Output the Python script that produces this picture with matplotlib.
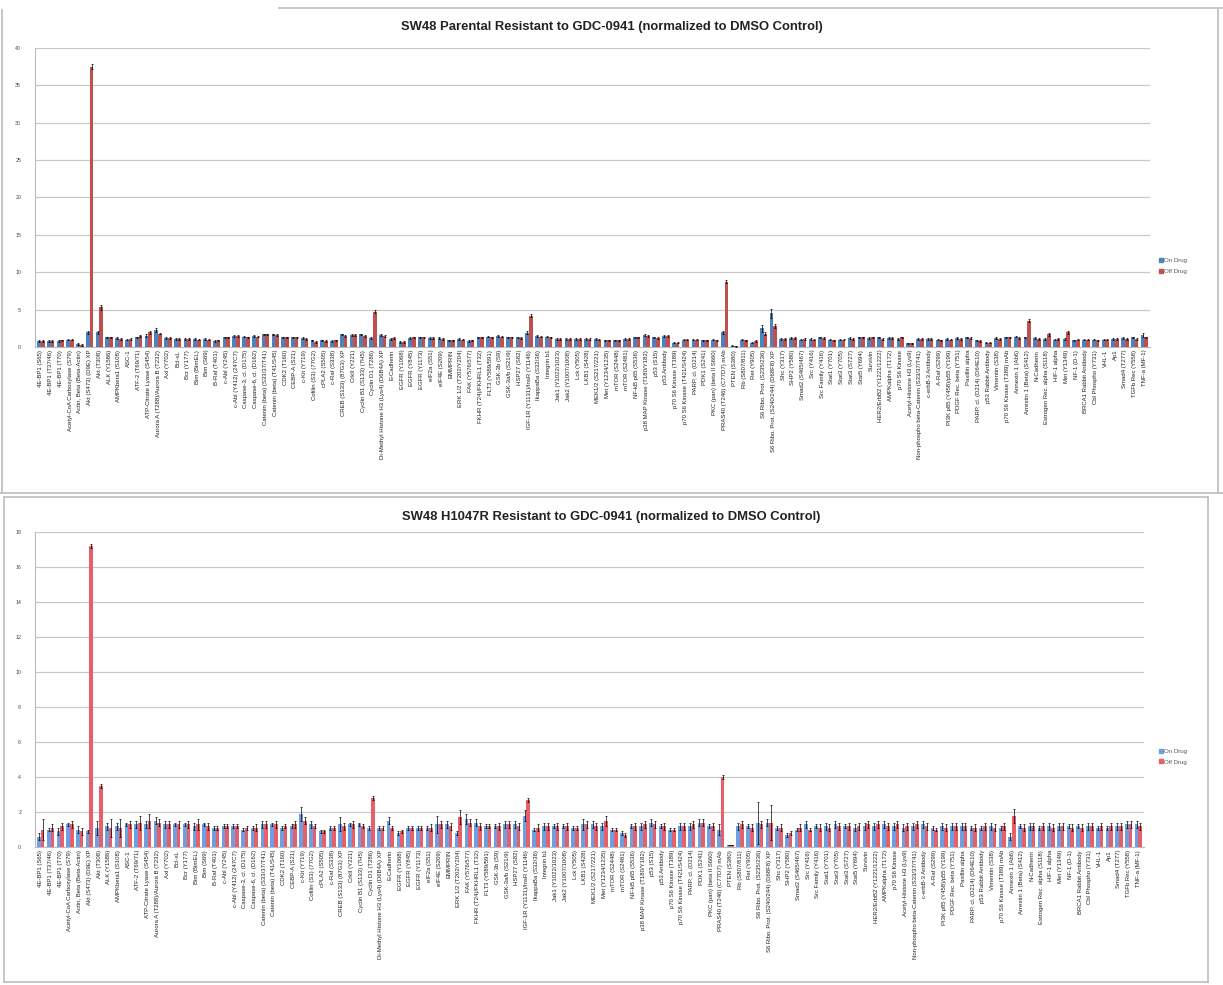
#!/usr/bin/env python3

# Two grouped bar charts (On Drug / Off Drug) for the SW48 antibody array, normalized to DMSO control

import matplotlib
matplotlib.use("Agg")
import matplotlib.pyplot as plt
from matplotlib.lines import Line2D
import numpy as np

labels = [
    "4E-BP1 (S65)", "4E-BP1 (T37/46)", "4E-BP1 (T70)", "Acetyl-CoA Carboxylase (S79)", "Actin, Beta (Beta-Actin)",
    "Akt (S473) (D9E) XP", "Akt (T308)", "ALK (Y1586)", "AMPKbeta1 (S108)", "ASC-1",
    "ATF-2 (T69/71)", "ATP-Citrate Lyase (S454)", "Aurora A (T288)/Aurora B (T232)", "Axl (Y702)", "Bcl-xL",
    "Bcr (Y177)", "Bim (BimEL)", "Bim (S69)", "B-Raf (T401)", "c-Abl (Y245)",
    "c-Abl (Y412) (247C7)", "Caspase-3, cl. (D175)", "Caspase-6, cl. (D162)", "Catenin (beta) (S33/37/T41)", "Catenin (beta) (T41/S45)",
    "CDK2 (T160)", "CEBP-A (S21)", "c-Kit (Y719)", "Cofilin (S3) (77G2)", "cPLA2 (S505)",
    "c-Raf (S338)", "CREB (S133) (87G3) XP", "CrkII (Y221)", "Cyclin B1 (S133) (7H5)", "Cyclin D1 (T286)",
    "Di-Methyl Histone H3 (Lys4) (D6B4A) XP", "E-Cadherin", "EGFR (Y1068)", "EGFR (Y845)", "EGFR (Y1173)",
    "eIF2a (S51)", "eIF4E (S209)", "EMMPRIN", "ERK 1/2 (T202/Y204)", "FAK (Y576/577)",
    "FKHR (T24)/FKHRL1 (T32)", "FLT3 (Y589/591)", "GSK-3b (S9)", "GSK-3a/b (S21/9)", "HSP27 (S82)",
    "IGF-1R (Y1131)/InsR (Y1146)", "IkappaBa (S32/36)", "Integrin b1", "Jak1 (Y1022/1023)", "Jak2 (Y1007/1008)",
    "Lck (Y505)", "LKB1 (S428)", "MEK1/2 (S217/221)", "Met (Y1234/1235)", "mTOR (S2448)",
    "mTOR (S2481)", "NF-kB p65 (S536)", "p38 MAP Kinase (T180/Y182)", "p53 (S15)", "p53 Antibody",
    "p70 S6 Kinase (T389)", "p70 S6 Kinase (T421/S424)", "PARP, cl. (D214)", "PDK1 (S241)", "PKC (pan) (beta II S660)",
    "PRAS40 (T246) (C77D7) mAb", "PTEN (S380)", "Rb (S807/811)", "Ret (Y905)", "S6 Ribo. Prot. (S235/236)",
    "S6 Ribo. Prot. (S240/244) (D68F8) XP", "Shc (Y317)", "SHP2 (Y580)", "Smad2 (S465/467)", "Src (Y416)",
    "Src Family (Y416)", "Stat1 (Y701)", "Stat3 (Y705)", "Stat3 (S727)", "Stat5 (Y694)",
    "Survivin", "HER2/ErbB2 (Y1221/1222)", "AMPKalpha (T172)", "p70 S6 Kinase", "Acetyl-Histone H3 (Lys9)",
    "Non-phospho beta-Catenin (S33/37/T41)", "c-erbB-3 Antibody", "A-Raf (S299)", "PI3K p85 (Y458)/p55 (Y199)", "PDGF Rec. beta (Y751)",
    "Paxillin alpha", "PARP, cl. (D214) (D64E10)", "p53 Rabbit Antibody", "Vimentin (S38)", "p70 S6 Kinase (T389) mAb",
    "Annexin 1 (Ab6)", "Arrestin 1 (Beta) (S412)", "N-Cadherin", "Estrogen Rec. alpha (S118)", "HIF-1 alpha",
    "Met (Y1349)", "NF-1 (D-1)", "BRCA1 Rabbit Antibody", "Cbl Phospho (Y731)", "VHL-1",
    "Ap1", "Smad4 (T277)", "TGFb Rec (Y558)", "TNF-a (MF-1)",
]

# Top chart: SW48 Parental
parental_on = [
    0.8, 0.8, 0.8, 1.0, 0.4, 2.0, 2.0, 1.3, 1.2, 1.0,
    1.3, 1.5, 2.3, 1.2, 1.1, 1.1, 1.1, 1.1, 0.8, 1.3,
    1.5, 1.4, 1.5, 1.7, 1.7, 1.3, 1.3, 1.2, 0.9, 0.9,
    0.8, 1.7, 1.6, 1.7, 1.2, 1.6, 1.1, 0.7, 1.2, 1.3,
    1.2, 1.2, 0.9, 1.1, 0.8, 1.3, 1.4, 1.5, 1.3, 1.3,
    1.9, 1.5, 1.4, 1.1, 1.1, 1.1, 1.1, 1.1, 0.9, 0.9,
    1.1, 1.3, 1.6, 1.3, 1.5, 0.6, 1.0, 1.0, 0.9, 1.0,
    2.0, 0.2, 1.0, 0.6, 2.5, 4.5, 1.1, 1.2, 1.0, 1.1,
    1.3, 1.0, 1.0, 1.2, 1.3, 1.2, 1.3, 1.2, 1.1, 0.5,
    1.1, 1.1, 1.0, 1.1, 1.2, 1.3, 0.9, 0.6, 1.2, 1.3,
    1.4, 1.3, 1.2, 1.1, 1.0, 1.1, 0.9, 1.0, 1.0, 1.0,
    1.1, 1.2, 1.3, 1.6,
]
parental_off = [
    0.8, 0.8, 0.9, 1.0, 0.3, 37.5, 5.3, 1.3, 1.1, 1.1,
    1.5, 2.0, 1.8, 1.2, 1.1, 1.1, 1.0, 1.0, 0.9, 1.3,
    1.5, 1.3, 1.4, 1.7, 1.6, 1.3, 1.3, 1.1, 0.7, 0.8,
    0.9, 1.5, 1.6, 1.5, 4.7, 1.5, 1.2, 0.7, 1.3, 1.3,
    1.2, 1.1, 0.9, 1.0, 0.9, 1.3, 1.3, 1.4, 1.3, 1.2,
    4.2, 1.4, 1.3, 1.1, 1.1, 1.1, 1.1, 1.0, 0.9, 0.9,
    1.1, 1.3, 1.5, 1.2, 1.5, 0.6, 1.0, 1.0, 0.9, 0.9,
    8.7, 0.1, 0.9, 0.8, 1.8, 2.8, 1.1, 1.2, 1.1, 1.0,
    1.2, 0.9, 1.0, 1.1, 1.3, 1.3, 1.1, 1.2, 1.3, 0.5,
    1.1, 1.1, 0.9, 1.0, 1.1, 1.2, 0.8, 0.6, 1.1, 1.3,
    1.2, 3.5, 1.1, 1.7, 1.1, 2.0, 1.0, 1.0, 0.9, 1.0,
    1.1, 1.1, 1.1, 1.3,
]
parental_on_err = [
    0.1, 0.1, 0.1, 0.1, 0.1, 0.2, 0.2, 0.1, 0.1, 0.1,
    0.1, 0.2, 0.3, 0.1, 0.1, 0.1, 0.1, 0.1, 0.1, 0.1,
    0.1, 0.1, 0.1, 0.1, 0.1, 0.1, 0.1, 0.1, 0.1, 0.1,
    0.1, 0.1, 0.1, 0.1, 0.1, 0.1, 0.1, 0.1, 0.1, 0.1,
    0.1, 0.1, 0.1, 0.1, 0.1, 0.1, 0.1, 0.1, 0.1, 0.1,
    0.2, 0.1, 0.1, 0.1, 0.1, 0.1, 0.1, 0.1, 0.1, 0.1,
    0.1, 0.1, 0.1, 0.1, 0.1, 0.1, 0.1, 0.1, 0.1, 0.1,
    0.2, 0.1, 0.1, 0.1, 0.5, 0.6, 0.1, 0.1, 0.1, 0.1,
    0.1, 0.1, 0.1, 0.1, 0.1, 0.1, 0.1, 0.1, 0.1, 0.1,
    0.1, 0.1, 0.1, 0.1, 0.1, 0.1, 0.1, 0.1, 0.1, 0.1,
    0.1, 0.1, 0.1, 0.1, 0.1, 0.1, 0.1, 0.1, 0.1, 0.1,
    0.1, 0.1, 0.1, 0.3,
]
parental_off_err = [
    0.1, 0.1, 0.1, 0.1, 0.1, 0.3, 0.3, 0.1, 0.1, 0.1,
    0.1, 0.2, 0.1, 0.1, 0.1, 0.1, 0.1, 0.1, 0.1, 0.1,
    0.1, 0.1, 0.1, 0.1, 0.1, 0.1, 0.1, 0.1, 0.1, 0.1,
    0.1, 0.1, 0.1, 0.1, 0.2, 0.1, 0.1, 0.1, 0.1, 0.1,
    0.1, 0.1, 0.1, 0.1, 0.1, 0.1, 0.1, 0.1, 0.1, 0.1,
    0.2, 0.1, 0.1, 0.1, 0.1, 0.1, 0.1, 0.1, 0.1, 0.1,
    0.1, 0.1, 0.1, 0.1, 0.1, 0.1, 0.1, 0.1, 0.1, 0.1,
    0.2, 0.1, 0.1, 0.1, 0.2, 0.3, 0.1, 0.1, 0.1, 0.1,
    0.1, 0.1, 0.1, 0.1, 0.1, 0.1, 0.1, 0.1, 0.1, 0.1,
    0.1, 0.1, 0.1, 0.1, 0.1, 0.1, 0.1, 0.1, 0.1, 0.1,
    0.1, 0.2, 0.1, 0.2, 0.1, 0.2, 0.1, 0.1, 0.1, 0.1,
    0.1, 0.1, 0.1, 0.1,
]

# Bottom chart: SW48 H1047R
h1047r_on = [
    0.6, 1.0, 0.9, 1.3, 1.0, 0.9, 1.1, 1.2, 1.2, 1.3,
    1.3, 1.3, 1.5, 1.3, 1.3, 1.3, 1.2, 1.3, 1.1, 1.2,
    1.2, 1.0, 1.1, 1.3, 1.3, 1.1, 1.2, 1.9, 1.3, 0.9,
    1.1, 1.3, 1.3, 1.3, 1.1, 1.1, 1.5, 0.8, 1.1, 1.1,
    1.1, 1.3, 1.3, 0.8, 1.6, 1.4, 1.2, 1.2, 1.3, 1.3,
    1.8, 1.0, 1.2, 1.2, 1.2, 1.1, 1.3, 1.3, 1.2, 1.0,
    0.8, 1.2, 1.2, 1.4, 1.2, 1.0, 1.2, 1.2, 1.4, 1.2,
    1.0, 0.1, 1.2, 1.2, 1.4, 1.4, 1.1, 0.7, 1.0, 1.3,
    1.2, 1.2, 1.3, 1.2, 1.1, 1.2, 1.2, 1.3, 1.2, 1.1,
    1.2, 1.3, 1.1, 1.2, 1.2, 1.2, 1.1, 1.1, 1.2, 1.1,
    0.6, 1.2, 1.2, 1.1, 1.2, 1.2, 1.2, 1.2, 1.2, 1.1,
    1.1, 1.2, 1.3, 1.3,
]
h1047r_off = [
    1.0, 1.1, 1.2, 1.3, 0.9, 17.2, 3.5, 1.1, 1.1, 1.3,
    1.4, 1.5, 1.4, 1.3, 1.3, 1.3, 1.3, 1.2, 1.1, 1.2,
    1.2, 1.1, 1.1, 1.3, 1.3, 1.2, 1.3, 1.5, 1.2, 0.9,
    1.1, 1.2, 1.3, 1.2, 2.8, 1.1, 1.1, 0.9, 1.1, 1.1,
    1.1, 1.3, 1.2, 1.7, 1.4, 1.2, 1.2, 1.2, 1.3, 1.2,
    2.7, 1.1, 1.2, 1.2, 1.2, 1.1, 1.3, 1.2, 1.5, 1.0,
    0.7, 1.2, 1.3, 1.3, 1.2, 1.0, 1.2, 1.3, 1.4, 1.2,
    4.0, 0.1, 1.3, 1.1, 1.3, 1.4, 1.1, 0.8, 1.1, 1.0,
    1.1, 1.1, 1.2, 1.2, 1.2, 1.3, 1.3, 1.2, 1.3, 1.2,
    1.3, 1.2, 1.0, 1.1, 1.2, 1.2, 1.1, 1.2, 1.1, 1.2,
    1.8, 1.1, 1.2, 1.2, 1.1, 1.2, 1.1, 1.1, 1.2, 1.2,
    1.2, 1.2, 1.3, 1.2,
]
h1047r_on_err = [
    0.2, 0.1, 0.2, 0.1, 0.2, 0.1, 0.4, 0.2, 0.2, 0.1,
    0.2, 0.2, 0.2, 0.2, 0.1, 0.1, 0.2, 0.1, 0.1, 0.1,
    0.1, 0.1, 0.1, 0.2, 0.1, 0.1, 0.1, 0.4, 0.2, 0.1,
    0.1, 0.4, 0.1, 0.1, 0.1, 0.1, 0.2, 0.1, 0.1, 0.1,
    0.1, 0.5, 0.2, 0.1, 0.3, 0.2, 0.1, 0.1, 0.2, 0.2,
    0.3, 0.1, 0.2, 0.1, 0.1, 0.1, 0.3, 0.2, 0.2, 0.1,
    0.1, 0.1, 0.2, 0.2, 0.1, 0.1, 0.2, 0.2, 0.2, 0.1,
    0.3, 0.0, 0.2, 0.1, 1.2, 0.2, 0.1, 0.1, 0.1, 0.2,
    0.1, 0.2, 0.2, 0.1, 0.2, 0.2, 0.2, 0.2, 0.2, 0.2,
    0.2, 0.2, 0.1, 0.2, 0.2, 0.2, 0.1, 0.1, 0.2, 0.1,
    0.2, 0.1, 0.2, 0.1, 0.2, 0.2, 0.1, 0.1, 0.2, 0.1,
    0.1, 0.2, 0.2, 0.2,
]
h1047r_off_err = [
    0.6, 0.2, 0.2, 0.2, 0.2, 0.1, 0.1, 0.5, 0.5, 0.2,
    0.4, 0.4, 0.2, 0.2, 0.2, 0.2, 0.3, 0.2, 0.1, 0.1,
    0.1, 0.1, 0.2, 0.2, 0.2, 0.1, 0.2, 0.2, 0.1, 0.1,
    0.1, 0.2, 0.2, 0.1, 0.1, 0.1, 0.1, 0.1, 0.1, 0.1,
    0.2, 0.2, 0.2, 0.4, 0.2, 0.2, 0.1, 0.2, 0.2, 0.2,
    0.1, 0.2, 0.2, 0.2, 0.2, 0.1, 0.2, 0.2, 0.3, 0.1,
    0.1, 0.2, 0.2, 0.2, 0.2, 0.1, 0.2, 0.2, 0.2, 0.2,
    0.1, 0.0, 0.2, 0.2, 0.2, 1.0, 0.2, 0.1, 0.2, 0.1,
    0.2, 0.2, 0.2, 0.2, 0.2, 0.2, 0.2, 0.2, 0.2, 0.2,
    0.2, 0.2, 0.1, 0.2, 0.2, 0.2, 0.2, 0.2, 0.2, 0.2,
    0.4, 0.2, 0.2, 0.2, 0.2, 0.2, 0.2, 0.2, 0.2, 0.2,
    0.2, 0.2, 0.2, 0.2,
]

plt.rcParams['font.family'] = ['Liberation Sans', 'DejaVu Sans']


def draw_panel(ax, on, off, on_err, off_err, title, ymax, ystep, colors, title_y, legend_y, fig):
    x = np.arange(len(labels))
    w = 0.38
    ekw = dict(ecolor='black', elinewidth=0.5, capsize=1.0, capthick=0.5)
    ax.bar(x - w / 2, on, w, yerr=on_err, color=colors[0], error_kw=ekw, zorder=3)
    ax.bar(x + w / 2, off, w, yerr=off_err, color=colors[1], error_kw=ekw, zorder=3)

    ax.set_xlim(-0.6, len(labels) - 0.4)
    ax.set_ylim(0, ymax)
    ax.set_yticks(np.arange(0, ymax + 0.01, ystep))
    ax.tick_params(axis='y', labelsize=3.8, length=0, colors='#444444', pad=10)
    ax.set_xticks(x)
    ax.set_xticklabels(labels, rotation=90, fontsize=4.3, color='#222222')
    ax.tick_params(axis='x', length=0, pad=2)
    ax.grid(axis='y', color='#c8c8c8', linewidth=0.9, zorder=0)
    for s in ['top', 'right']:
        ax.spines[s].set_visible(False)
    ax.spines['left'].set_color('#bbbbbb')
    ax.spines['bottom'].set_color('#bbbbbb')

    fig.text(0.5, title_y, title, ha='center', va='center', fontsize=9.4, fontweight='bold', color='#222222')

    handles = [Line2D([], [], marker='s', linestyle='none', markersize=2.5, color=colors[0]),
               Line2D([], [], marker='s', linestyle='none', markersize=2.5, color=colors[1])]
    fig.legend(handles, ['On Drug', 'Off Drug'], loc='center left', bbox_to_anchor=(0.943, legend_y),
               frameon=False, fontsize=4.4, handletextpad=0.1, labelspacing=0.9, handlelength=0.8,
               labelcolor='#555555')


fig = plt.figure(figsize=(12.23, 9.85), dpi=100)

ax1 = fig.add_axes([0.0286, 0.6477, 0.912, 0.3036])
draw_panel(ax1, parental_on, parental_off, parental_on_err, parental_off_err,
           "SW48 Parental Resistant to GDC-0941 (normalized to DMSO Control)",
           40, 5, ('#4F81BD', '#C0504D'), 0.9725, 0.730, fig)

ax2 = fig.add_axes([0.0286, 0.140, 0.907, 0.320])
draw_panel(ax2, h1047r_on, h1047r_off, h1047r_on_err, h1047r_off_err,
           "SW48 H1047R Resistant to GDC-0941 (normalized to DMSO Control)",
           18, 2, ('#6F9FE0', '#E5606A'), 0.4755, 0.232, fig)

# chart frames, as in the pasted Excel screenshots
frame = dict(color='#bdbdbd', linewidth=1.2, transform=fig.transFigure)
fig.add_artist(Line2D([0.228, 1.0], [0.992, 0.992], **frame))
fig.add_artist(Line2D([0.002, 0.002], [0.50, 0.99], **frame))
fig.add_artist(Line2D([0.996, 0.996], [0.50, 0.99], **frame))
fig.add_artist(Line2D([0.0, 1.0], [0.500, 0.500], **frame))
fig.add_artist(Line2D([0.003, 0.988], [0.495, 0.495], **frame))
fig.add_artist(Line2D([0.003, 0.003], [0.003, 0.495], **frame))
fig.add_artist(Line2D([0.988, 0.988], [0.003, 0.495], **frame))
fig.add_artist(Line2D([0.003, 0.988], [0.003, 0.003], **frame))

fig.savefig("out.png", dpi=100)
